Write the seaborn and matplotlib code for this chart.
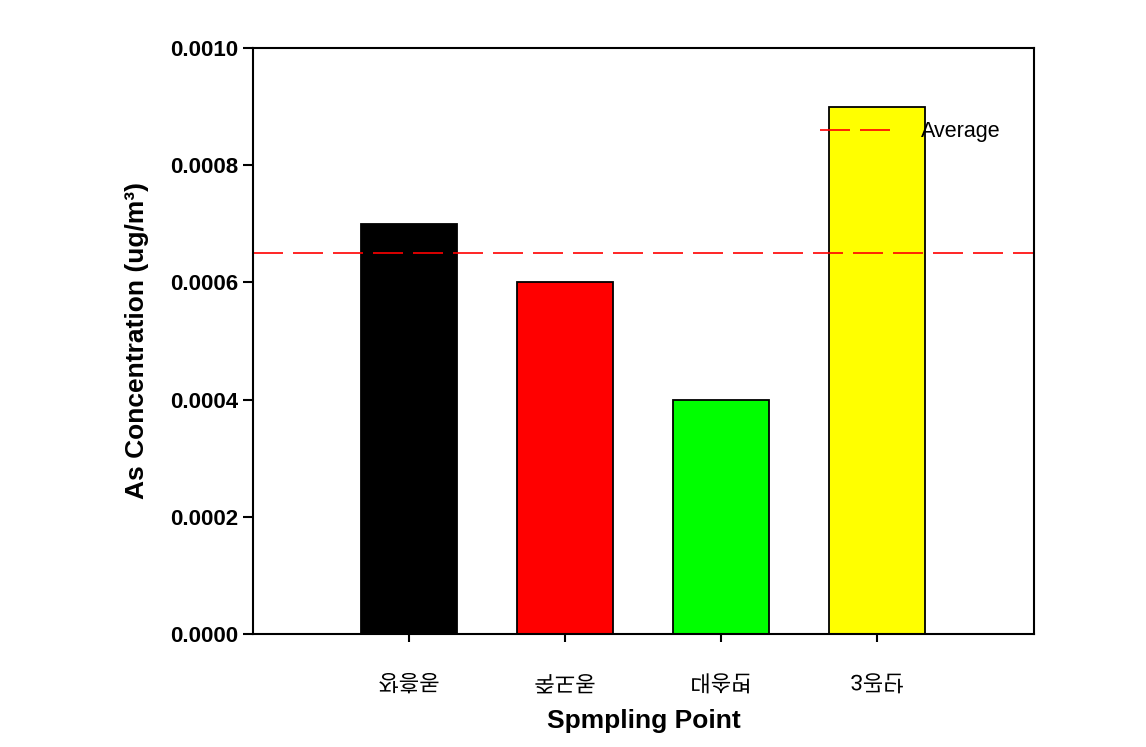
import matplotlib
matplotlib.use("Agg")
import matplotlib.pyplot as plt
import seaborn as sns
import pandas as pd
from matplotlib.lines import Line2D
from matplotlib.patheffects import AbstractPathEffect
from matplotlib.transforms import Affine2D

# ---- data ----
categories = ["장흥동", "죽도동", "대송면", "3공단"]
values = [0.0007, 0.0006, 0.0004, 0.0009]
bar_colors = ["#000000", "#FF0000", "#00FF00", "#FFFF00"]
average = 0.00065
yticks = [0.0, 0.0002, 0.0004, 0.0006, 0.0008, 0.0010]
ylabel = "As Concentration (ug/m³)"
xlabel = "Spmpling Point"
legend_label = "Average"

sns.set_theme(style="white")
plt.rcParams["font.family"] = ["Liberation Sans", "Noto Sans CJK KR", "DejaVu Sans"]
plt.rcParams["text.color"] = "black"
plt.rcParams["axes.labelcolor"] = "black"
plt.rcParams["xtick.color"] = "black"
plt.rcParams["ytick.color"] = "black"


class FlipV(AbstractPathEffect):
    """Draw the text glyphs mirrored top-to-bottom (as in the source image)."""
    def draw_path(self, renderer, gc, tpath, affine, rgbFace=None):
        ext = tpath.get_extents()
        cy = (ext.y0 + ext.y1) / 2
        flip = Affine2D().translate(0, -cy).scale(1, -1).translate(0, cy)
        renderer.draw_path(gc, tpath, flip + affine, rgbFace)


df = pd.DataFrame({"point": categories, "conc": values})

fig = plt.figure(figsize=(11.46, 7.47), dpi=100)
ax = fig.add_axes([0.2208, 0.1513, 0.6815, 0.7845])

sns.barplot(data=df, x="point", y="conc", hue="point", palette=bar_colors,
            width=0.615, edgecolor="black", linewidth=1.3, saturation=1,
            legend=False, ax=ax)

ax.axhline(average, color="#FF0000", lw=1.2, dashes=(18, 6))

ax.set_xlim(-1, 4.006)
ax.set_ylim(0, 0.001)
ax.set_yticks(yticks)
ax.set_yticklabels([f"{v:.4f}" for v in yticks], fontsize=16, fontweight="bold")

ax.set_xticks(range(len(categories)))
ax.set_xticklabels(categories, fontsize=16)
for lab in ax.get_xticklabels():
    lab.set_path_effects([FlipV()])

for s in ax.spines.values():
    s.set_visible(True)
    s.set_color("black")
    s.set_linewidth(1.5)

ax.tick_params(axis="y", direction="out", length=7, width=1.5, pad=4,
               left=True, right=False, colors="black")
ax.tick_params(axis="x", direction="out", length=6, width=1.5, pad=24,
               bottom=True, top=False, colors="black")

ax.set_ylabel(ylabel, fontsize=19, fontweight="bold", labelpad=15, color="black")
ax.set_xlabel(xlabel, fontsize=19, fontweight="bold", labelpad=9, color="black")
ax.grid(False)

handle = Line2D([], [], color="#FF0000", lw=1.2, dashes=(18, 6))
leg = ax.legend([handle], [legend_label], loc="center left",
                bbox_to_anchor=(0.726, 0.857), frameon=False, fontsize=15.5,
                handlelength=3.3, handletextpad=1.4, borderpad=0, borderaxespad=0)
for t in leg.get_texts():
    t.set_color("black")

fig.savefig("out.png", dpi=100, facecolor="white")
